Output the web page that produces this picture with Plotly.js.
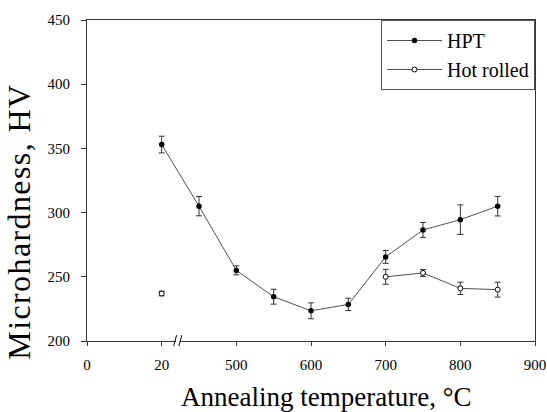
<!DOCTYPE html>
<html>
<head>
<meta charset="utf-8">
<script src="https://cdn.plot.ly/plotly-3.0.1.min.js"></script>
<style>
html,body{margin:0;padding:0;background:#fff;}
#chart{width:547px;height:412px;}
#chart text{font-family:"Liberation Serif","Times New Roman",serif !important;}
#chart .annotation[data-index="0"] text{letter-spacing:1.4px;}
</style>
</head>
<body>
<div id="chart"></div>
<script>
// Annealing temperatures (°C); 20 = as-processed (room temperature)
var temps = [20, 450, 500, 550, 600, 650, 700, 750, 800, 850];
var hptValues = [353, 305, 255, 234.5, 223.5, 228.5, 265.5, 286.5, 294.5, 305];
var hptErrors = [6.5, 7.5, 3.5, 5.8, 6.2, 4.8, 5, 5.8, 11.5, 7.6];
var hotValues = [237, null, null, null, null, null, 250, 253, 241, 240];
var hotErrors = [1.8, null, null, null, null, null, 5.8, 2.7, 4.8, 5.8];
var tickTemps = [0, 20, 500, 600, 700, 800, 900];
var tickLabels = ['0', '20', '500', '600', '700', '800', '900'];

// broken axis: 0..20 is drawn in the slot 300..400, the rest is linear
function pos(t) { return t <= 20 ? 300 + t * 5 : t; }
var xs = temps.map(pos);

var font = 'Liberation Serif, serif';
var traces = [
  {
    name: 'HPT', x: xs, y: hptValues, type: 'scatter', mode: 'lines+markers',
    line: {color: '#505050', width: 1},
    marker: {color: '#000', size: 5.5, symbol: 'circle'},
    error_y: {type: 'data', array: hptErrors, visible: true, color: '#333', thickness: 1, width: 3}
  },
  {
    name: 'Hot rolled', x: xs, y: hotValues, type: 'scatter', mode: 'lines+markers',
    connectgaps: false,
    line: {color: '#505050', width: 1},
    marker: {color: '#fff', size: 5, symbol: 'circle', line: {color: '#000', width: 1}},
    error_y: {type: 'data', array: hotErrors, visible: true, color: '#333', thickness: 1, width: 3}
  }
];

var layout = {
  width: 547, height: 412,
  margin: {l: 87, r: 12, t: 20, b: 71},
  paper_bgcolor: '#fff', plot_bgcolor: '#fff',
  font: {family: font, color: '#000', size: 15},
  showlegend: true,
  legend: {
    x: 1, xanchor: 'right', y: 1, yanchor: 'top',
    bordercolor: '#555', borderwidth: 1, bgcolor: '#fff',
    font: {family: font, size: 20, color: '#000'}, tracegroupgap: 0, itemwidth: 55
  },
  xaxis: {
    range: [300, 900], tickmode: 'array',
    tickvals: tickTemps.map(pos), ticktext: tickLabels,
    showgrid: false, zeroline: false, showline: true, mirror: true,
    linecolor: '#333', linewidth: 1, ticks: 'outside', ticklen: 4, tickcolor: '#333',
    tickfont: {family: font, size: 15, color: '#000'}, ticklabelstandoff: 6
  },
  yaxis: {
    range: [200, 450], dtick: 50, tick0: 200,
    showgrid: false, zeroline: false, showline: true, mirror: true,
    linecolor: '#333', linewidth: 1, ticks: 'outside', ticklen: 5, tickcolor: '#333',
    tickfont: {family: font, size: 15, color: '#000'}, ticklabelstandoff: 8
  },
  annotations: [
    {text: 'Microhardness, HV', xref: 'paper', yref: 'paper', x: -0.152, y: 0.371,
     textangle: -90, showarrow: false, xanchor: 'center', yanchor: 'middle',
     font: {family: font, size: 32}},
    {text: 'Annealing temperature, °C', xref: 'paper', yref: 'paper', x: 0.534, y: -0.176,
     showarrow: false, xanchor: 'center', yanchor: 'middle',
     font: {family: font, size: 27}}
  ],
  shapes: [
    {type: 'rect', xref: 'x', yref: 'paper', x0: pos(20) + 19, x1: pos(20) + 24, y0: -0.006, y1: 0.006,
     fillcolor: '#fff', line: {width: 0}, layer: 'above'},
    {type: 'line', xref: 'x', yref: 'paper', x0: pos(20) + 16, x1: pos(20) + 20, y0: -0.016, y1: 0.018,
     line: {color: '#000', width: 1}, layer: 'above'},
    {type: 'line', xref: 'x', yref: 'paper', x0: pos(20) + 23, x1: pos(20) + 27, y0: -0.016, y1: 0.018,
     line: {color: '#000', width: 1}, layer: 'above'}
  ]
};

Plotly.newPlot('chart', traces, layout, {displayModeBar: false, staticPlot: true});
</script>
</body>
</html>
